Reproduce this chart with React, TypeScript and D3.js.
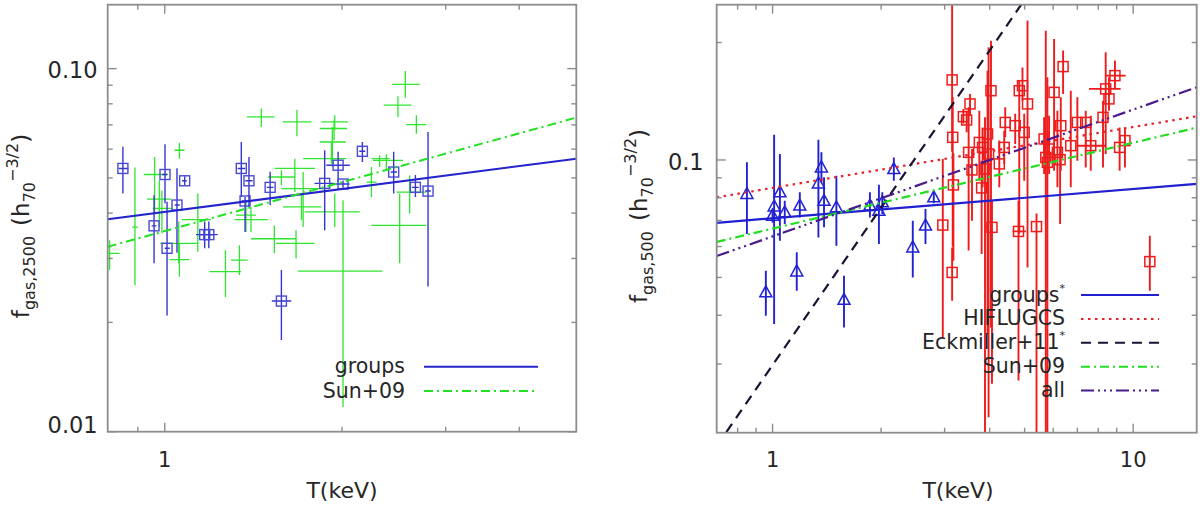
import React from "react";
import * as d3 from "d3";

// ---------- left panel: f_gas,2500 vs T ----------
// groups (blue squares)
const grp25T = [0.849, 0.959, 1.001, 1.009, 1.049, 1.081, 1.169, 1.188, 1.349, 1.369, 1.39, 1.51, 1.578, 1.869, 1.97, 2.008, 2.166, 2.448, 2.665, 2.8];
const grp25Tlo = [0.835, 0.95, 0.99, 1.0, 1.04, 1.07, 1.13, 1.15, 1.33, 1.35, 1.37, 1.49, 1.52, 1.796, 1.881, 1.94, 2.14, 2.42, 2.63, 2.77];
const grp25Thi = [0.867, 0.968, 1.01, 1.02, 1.06, 1.09, 1.214, 1.23, 1.37, 1.39, 1.41, 1.53, 1.64, 1.942, 2.062, 2.06, 2.19, 2.48, 2.7, 2.83];
const grp25F = [0.0531, 0.0369, 0.0511, 0.032, 0.0421, 0.0491, 0.0349, 0.0349, 0.0531, 0.0432, 0.0491, 0.0471, 0.0229, 0.0483, 0.0542, 0.0481, 0.0592, 0.0519, 0.0471, 0.046];
const grp25Flo = [0.0453, 0.0291, 0.0426, 0.0209, 0.0311, 0.0478, 0.032, 0.032, 0.0443, 0.0355, 0.0416, 0.0421, 0.0179, 0.0359, 0.0487, 0.047, 0.0553, 0.0453, 0.0443, 0.0251];
const grp25Fhi = [0.0609, 0.0448, 0.0619, 0.043, 0.0532, 0.0505, 0.0379, 0.0379, 0.0628, 0.0443, 0.0571, 0.052, 0.0279, 0.0596, 0.059, 0.0492, 0.0628, 0.059, 0.0509, 0.0669];

// Sun+09 (green crosses)
const sunT = [0.806, 0.89, 0.961, 0.979, 0.989, 1.059, 1.059, 1.056, 1.138, 1.268, 1.339, 1.401, 1.374, 1.535, 1.671, 1.663, 1.459, 1.677, 1.944, 1.939, 1.926, 1.919, 1.578, 1.718, 1.707, 1.944, 2.008, 2.317, 2.379, 2.506, 2.489, 2.562, 2.675, 2.606, 2.244];
const sunTlo = [0.8, 0.88, 0.921, 0.933, 0.954, 1.039, 1.019, 0.982, 1.069, 1.191, 1.296, 1.313, 1.321, 1.401, 1.545, 1.537, 1.379, 1.585, 1.845, 1.833, 1.833, 1.718, 1.498, 1.578, 1.588, 1.729, 1.684, 2.244, 2.258, 2.244, 2.354, 2.432, 2.572, 2.474, 2.2];
const sunThi = [0.838, 0.9, 1.012, 1.025, 1.032, 1.08, 1.101, 1.138, 1.198, 1.347, 1.383, 1.496, 1.429, 1.671, 1.796, 1.8, 1.537, 1.775, 2.048, 2.04, 2.03, 2.035, 1.663, 1.882, 1.845, 2.144, 2.342, 2.41, 2.539, 2.782, 2.623, 2.71, 2.782, 2.782, 2.29];
const sunF = [0.031, 0.0366, 0.0511, 0.0437, 0.0412, 0.0596, 0.0298, 0.033, 0.0384, 0.0276, 0.0297, 0.0384, 0.0395, 0.034, 0.033, 0.0531, 0.0736, 0.0713, 0.0713, 0.0684, 0.0628, 0.0565, 0.0503, 0.0467, 0.0416, 0.0403, 0.0277, 0.0565, 0.0559, 0.037, 0.0793, 0.0905, 0.0701, 0.0457, 0.0487];
const sunFlo = [0.0279, 0.0253, 0.04, 0.0366, 0.0352, 0.0565, 0.0267, 0.0291, 0.0313, 0.0235, 0.027, 0.0355, 0.0355, 0.031, 0.03, 0.0457, 0.0691, 0.0651, 0.0676, 0.0635, 0.0536, 0.0548, 0.0477, 0.0366, 0.0383, 0.0366, 0.0117, 0.0536, 0.0525, 0.0291, 0.0736, 0.0832, 0.0662, 0.0399, 0.0443];
const sunFhi = [0.0337, 0.0534, 0.0571, 0.0493, 0.0462, 0.0624, 0.033, 0.0379, 0.0453, 0.0316, 0.0326, 0.0416, 0.043, 0.037, 0.0359, 0.0565, 0.0776, 0.0771, 0.0744, 0.072, 0.0691, 0.0628, 0.0525, 0.0519, 0.0453, 0.0453, 0.0434, 0.0577, 0.0581, 0.0453, 0.0839, 0.0985, 0.0744, 0.0508, 0.0536];

// fitted power laws f = A * T^B
const fit25 = [
  { name: "groups", A: 0.0403, B: 0.21, color: "#2424cc", dash: "" },
  { name: "Sun+09", A: 0.0357, B: 0.447, color: "#22e022", dash: "9,4,2,4" },
];

// ---------- right panel: f_gas,500 vs T ----------
// groups (blue triangles)
const grp5T = [0.849, 0.958, 1.01, 1.0, 1.048, 1.081, 1.167, 1.19, 1.34, 1.366, 1.389, 1.503, 1.578, 1.862, 1.972, 2.015, 2.169, 2.448, 2.655, 2.799];
const grp5F = [0.0818, 0.0458, 0.076, 0.072, 0.0826, 0.0734, 0.0518, 0.0764, 0.0871, 0.0957, 0.0786, 0.0756, 0.0438, 0.0764, 0.0741, 0.0779, 0.0948, 0.0597, 0.0679, 0.0802];
const grp5Flo = [0.0646, 0.0399, 0.038, 0.069, 0.0621, 0.0685, 0.0462, 0.0712, 0.0633, 0.0876, 0.0672, 0.0603, 0.0372, 0.0712, 0.0609, 0.0727, 0.0885, 0.05, 0.0609, 0.0775];
const grp5Fhi = [0.0986, 0.052, 0.1161, 0.075, 0.1036, 0.0786, 0.058, 0.0826, 0.1127, 0.1046, 0.0903, 0.0911, 0.0505, 0.0826, 0.0864, 0.0826, 0.1015, 0.0699, 0.0749, 0.083];

// HIFLUGCS (red squares)
const hifT = [3.147, 3.159, 3.173, 3.147, 2.965, 3.381, 3.453, 3.528, 3.497, 3.573, 3.744, 3.8, 3.823, 3.882, 3.946, 3.972, 4.033, 4.059, 4.253, 4.389, 4.418, 4.708, 4.831, 4.932, 4.808, 4.986, 5.093, 5.394, 5.662, 5.723, 5.782, 5.845, 6.035, 6.164, 6.298, 6.271, 6.392, 6.713, 7.001, 7.386, 7.626, 8.247, 8.39, 8.567, 8.9, 9.17, 9.487, 11.12];
const hifTlo = [3.147, 3.159, 3.173, 3.147, 2.965, 3.381, 3.453, 3.528, 3.497, 3.573, 3.744, 3.8, 3.823, 3.882, 3.946, 3.972, 4.033, 4.059, 4.253, 4.389, 4.418, 4.708, 4.831, 4.932, 4.63, 4.986, 5.093, 5.394, 5.662, 5.723, 5.782, 5.845, 6.035, 6.164, 6.298, 6.271, 6.392, 6.713, 7.001, 7.386, 7.0, 8.247, 7.54, 8.567, 8.39, 9.17, 9.487, 11.12];
const hifThi = [3.147, 3.159, 3.173, 3.147, 2.965, 3.381, 3.453, 3.528, 3.497, 3.573, 3.744, 3.8, 3.823, 3.882, 3.946, 3.972, 4.033, 4.059, 4.253, 4.389, 4.418, 4.708, 4.831, 4.932, 5.04, 4.986, 5.093, 5.394, 5.662, 5.723, 5.782, 5.845, 6.035, 6.164, 6.298, 6.271, 6.392, 6.713, 7.001, 7.386, 8.39, 8.247, 9.23, 8.567, 9.53, 9.17, 9.487, 11.12];
const hifF = [0.1604, 0.1143, 0.0863, 0.0515, 0.0681, 0.1291, 0.1266, 0.1392, 0.1046, 0.0943, 0.1109, 0.0848, 0.1077, 0.0948, 0.1166, 0.1036, 0.1505, 0.0672, 0.0977, 0.1077, 0.1248, 0.1224, 0.1505, 0.155, 0.0656, 0.1177, 0.1392, 0.0675, 0.1132, 0.1015, 0.0986, 0.1067, 0.149, 0.1046, 0.1224, 0.1002, 0.1735, 0.1088, 0.1248, 0.1248, 0.1088, 0.1286, 0.1521, 0.1434, 0.1645, 0.1077, 0.1121, 0.0549];
const hifFlo = [0.105, 0.06, 0.0552, 0.0436, 0.0351, 0.124, 0.1177, 0.1299, 0.0586, 0.0699, 0.0885, 0.0574, 0.0851, 0.0195, 0.0358, 0.0219, 0.0372, 0.0267, 0.0851, 0.0977, 0.1143, 0.1099, 0.0647, 0.1419, 0.0272, 0.0885, 0.053, 0.0195, 0.0921, 0.0195, 0.0195, 0.0921, 0.0939, 0.0851, 0.0939, 0.0685, 0.1477, 0.0851, 0.0996, 0.0957, 0.0939, 0.0957, 0.1036, 0.1338, 0.1521, 0.0939, 0.0957, 0.0462];
const hifFhi = [0.26, 0.145, 0.104, 0.0597, 0.1006, 0.135, 0.1338, 0.1477, 0.1364, 0.1067, 0.1338, 0.0996, 0.1212, 0.1286, 0.1694, 0.1945, 0.2022, 0.0786, 0.1121, 0.1189, 0.1364, 0.1313, 0.1597, 0.1727, 0.0786, 0.1313, 0.2277, 0.0729, 0.1286, 0.2145, 0.1629, 0.1299, 0.2042, 0.1338, 0.1447, 0.1077, 0.1907, 0.1505, 0.1447, 0.1338, 0.1299, 0.1419, 0.1888, 0.1629, 0.1798, 0.1212, 0.1212, 0.0639];

const fit5 = [
  { name: "groups", sup: "*", A: 0.0709, B: 0.075, color: "#2020d0", dash: "" },
  { name: "HIFLUGCS", sup: "", A: 0.0848, B: 0.156, color: "#e8202a", dash: "2.5,4.5" },
  { name: "Eckmiller+11", sup: "*", A: 0.0298, B: 1.34, color: "#1e1232", dash: "10,7" },
  { name: "Sun+09", sup: "", A: 0.0667, B: 0.22, color: "#22dd22", dash: "9,4,2,4" },
  { name: "all", sup: "", A: 0.0637, B: 0.325, color: "#4a1a8c", dash: "13,4,2,4,2,4,2,4" },
];

const FONT = "DejaVu Sans, sans-serif";
const FRAME = "#8c8c8c";
const TXT = "#262626";

interface Box { x0: number; x1: number; y0: number; y1: number }

function Frame({ box, x, y, xMajor, xMinor, yMajor, yMinor, id }: {
  box: Box; x: d3.ScaleLogarithmic<number, number>; y: d3.ScaleLogarithmic<number, number>;
  xMajor: number[]; xMinor: number[]; yMajor: number[]; yMinor: number[]; id: string;
}) {
  const tick = (v: number, major: boolean, axis: "x" | "y", k: string) => {
    const len = major ? 9 : 5;
    if (axis === "x") {
      const px = x(v);
      return (
        <g key={k}>
          <line x1={px} x2={px} y1={box.y1} y2={box.y1 - len} />
          <line x1={px} x2={px} y1={box.y0} y2={box.y0 + len} />
        </g>
      );
    }
    const py = y(v);
    return (
      <g key={k}>
        <line x1={box.x0} x2={box.x0 + len} y1={py} y2={py} />
        <line x1={box.x1} x2={box.x1 - len} y1={py} y2={py} />
      </g>
    );
  };
  return (
    <g stroke={FRAME} strokeWidth={1.4}>
      {xMajor.map((v) => tick(v, true, "x", `${id}xM${v}`))}
      {xMinor.map((v) => tick(v, false, "x", `${id}xm${v}`))}
      {yMajor.map((v) => tick(v, true, "y", `${id}yM${v}`))}
      {yMinor.map((v) => tick(v, false, "y", `${id}ym${v}`))}
      <rect x={box.x0} y={box.y0} width={box.x1 - box.x0} height={box.y1 - box.y0} fill="none" strokeWidth={1.8} />
    </g>
  );
}

function fitPath(x: d3.ScaleLogarithmic<number, number>, y: d3.ScaleLogarithmic<number, number>, A: number, B: number) {
  const [a, b] = x.domain();
  const line = d3.line<number>().x((t) => x(t)).y((t) => y(A * Math.pow(t, B)));
  return line([a, b]) ?? "";
}

function LeftPanel() {
  const box: Box = { x0: 107.7, x1: 576.3, y0: 4.7, y1: 431.7 };
  const x = d3.scaleLog().domain([0.8, 5]).range([box.x0, box.x1]);
  const y = d3.scaleLog().domain([0.01, 0.15]).range([box.y1, box.y0]);
  const blue = "#3636cc";
  const green = "#2fe52f";
  return (
    <g>
      <defs>
        <clipPath id="clipL">
          <rect x={box.x0} y={box.y0} width={box.x1 - box.x0} height={box.y1 - box.y0} />
        </clipPath>
      </defs>
      <g clipPath="url(#clipL)" fill="none">
        {sunT.map((t, i) => (
          <g key={`s${i}`} stroke={green} strokeWidth={1.3}>
            <line x1={x(sunTlo[i])} x2={x(sunThi[i])} y1={y(sunF[i])} y2={y(sunF[i])} />
            <line x1={x(t)} x2={x(t)} y1={y(sunFlo[i])} y2={y(sunFhi[i])} />
          </g>
        ))}
        {grp25T.map((t, i) => (
          <g key={`g${i}`} stroke={blue} strokeWidth={1.4}>
            <line x1={x(grp25Tlo[i])} x2={x(grp25Thi[i])} y1={y(grp25F[i])} y2={y(grp25F[i])} />
            <line x1={x(t)} x2={x(t)} y1={y(grp25Flo[i])} y2={y(grp25Fhi[i])} />
            <rect x={x(t) - 5} y={y(grp25F[i]) - 5} width={10} height={10} stroke="#4a4ad4" />
          </g>
        ))}
        {fit25.map((f) => (
          <path key={f.name} d={fitPath(x, y, f.A, f.B)} stroke={f.color} strokeWidth={2} strokeDasharray={f.dash} />
        ))}
      </g>
      <Frame box={box} x={x} y={y} xMajor={[1]} xMinor={[0.9, 2, 3, 4]} yMajor={[0.01, 0.1]}
        yMinor={[0.02, 0.03, 0.04, 0.05, 0.06, 0.07, 0.08, 0.09]} id="L" />
      <g fontFamily={FONT} fill={TXT}>
        <text x={box.x0 - 10} y={y(0.1) + 9} fontSize={22.5} textAnchor="end">0.10</text>
        <text x={box.x0 - 10} y={box.y1 + 1.5} fontSize={22.5} textAnchor="end">0.01</text>
        <text x={x(1)} y={467} fontSize={21} textAnchor="middle">1</text>
        <text x={342} y={498} fontSize={22} textAnchor="middle">T(keV)</text>
        <text transform="translate(29,226) rotate(-90)" fontSize={23} textAnchor="middle">
          f<tspan fontSize={16} dy={6}>gas,2500</tspan>
          <tspan dy={-6} dx={10}>(h</tspan>
          <tspan fontSize={16} dy={6}>70</tspan>
          <tspan fontSize={16} dy={-17}>−3/2</tspan>
          <tspan dy={11}>)</tspan>
        </text>
        {fit25.map((f, i) => {
          const ly = 366.7 + i * 24.3;
          return (
            <g key={`lg${f.name}`}>
              <text x={405} y={ly + 6.5} fontSize={20.5} textAnchor="end">{f.name}</text>
              <line x1={424} x2={538} y1={ly} y2={ly} stroke={f.color} strokeWidth={2} strokeDasharray={f.dash} />
            </g>
          );
        })}
      </g>
    </g>
  );
}

function RightPanel() {
  const box: Box = { x0: 716.7, x1: 1196.7, y0: 4.7, y1: 432.7 };
  const x = d3.scaleLog().domain([0.7, 15]).range([box.x0, box.x1]);
  const y = d3.scaleLog().domain([0.02, 0.25]).range([box.y1, box.y0]);
  const blue = "#2222d4";
  const red = "#ee1c1c";
  return (
    <g>
      <defs>
        <clipPath id="clipR">
          <rect x={box.x0} y={box.y0} width={box.x1 - box.x0} height={box.y1 - box.y0} />
        </clipPath>
      </defs>
      <g clipPath="url(#clipR)" fill="none">
        {grp5T.map((t, i) => {
          const cx = x(t);
          const cy = y(grp5F[i]);
          return (
            <g key={`t${i}`} stroke={blue} strokeWidth={1.9}>
              <line x1={cx} x2={cx} y1={y(grp5Flo[i])} y2={y(grp5Fhi[i])} />
              <path d={`M${cx},${cy - 6.5}L${cx + 6},${cy + 4.5}L${cx - 6},${cy + 4.5}Z`} strokeWidth={1.5} />
            </g>
          );
        })}
        {hifT.map((t, i) => {
          const cx = x(t);
          const cy = y(hifF[i]);
          return (
            <g key={`h${i}`} stroke={red} strokeWidth={1.9}>
              <line x1={cx} x2={cx} y1={y(hifFlo[i])} y2={y(hifFhi[i])} />
              <line x1={x(hifTlo[i])} x2={x(hifThi[i])} y1={cy} y2={cy} />
              <rect x={cx - 5} y={cy - 5} width={10} height={10} strokeWidth={1.5} />
            </g>
          );
        })}
        {fit5.map((f) => (
          <path key={f.name} d={fitPath(x, y, f.A, f.B)} stroke={f.color} strokeWidth={2.2} strokeDasharray={f.dash} />
        ))}
      </g>
      <Frame box={box} x={x} y={y} xMajor={[1, 10]} xMinor={[0.8, 0.9, 2, 3, 4, 5, 6, 7, 8, 9]} yMajor={[0.1]}
        yMinor={[0.03, 0.04, 0.05, 0.06, 0.07, 0.08, 0.09, 0.2]} id="R" />
      <g fontFamily={FONT} fill={TXT}>
        <text x={box.x0 - 13} y={y(0.1) + 10} fontSize={22.5} textAnchor="end">0.1</text>
        <text x={x(1)} y={467} fontSize={21} textAnchor="middle">1</text>
        <text x={x(10)} y={467} fontSize={21} textAnchor="middle">10</text>
        <text x={958} y={498} fontSize={22} textAnchor="middle">T(keV)</text>
        <text transform="translate(647,216) rotate(-90)" fontSize={23} textAnchor="middle">
          f<tspan fontSize={16} dy={6}>gas,500</tspan>
          <tspan dy={-6} dx={10}>(h</tspan>
          <tspan fontSize={16} dy={6}>70</tspan>
          <tspan fontSize={16} dy={-17}>−3/2</tspan>
          <tspan dy={11}>)</tspan>
        </text>
        {fit5.map((f, i) => {
          const ly = 295 + i * 23.9;
          return (
            <g key={`lr${f.name}`}>
              <text x={1065} y={ly + 6.5} fontSize={20.5} textAnchor="end">
                {f.name}
                {f.sup && <tspan fontSize={11} dy={-10}>{f.sup}</tspan>}
              </text>
              <line x1={1081} x2={1159} y1={ly} y2={ly} stroke={f.color} strokeWidth={2} strokeDasharray={f.dash} />
            </g>
          );
        })}
      </g>
    </g>
  );
}

export default function App() {
  return (
    <svg width={1200} height={505} style={{ position: "absolute", left: 0, top: 0, background: "#fff" }}>
      <rect width={1200} height={505} fill="#fff" />
      <LeftPanel />
      <RightPanel />
    </svg>
  );
}
